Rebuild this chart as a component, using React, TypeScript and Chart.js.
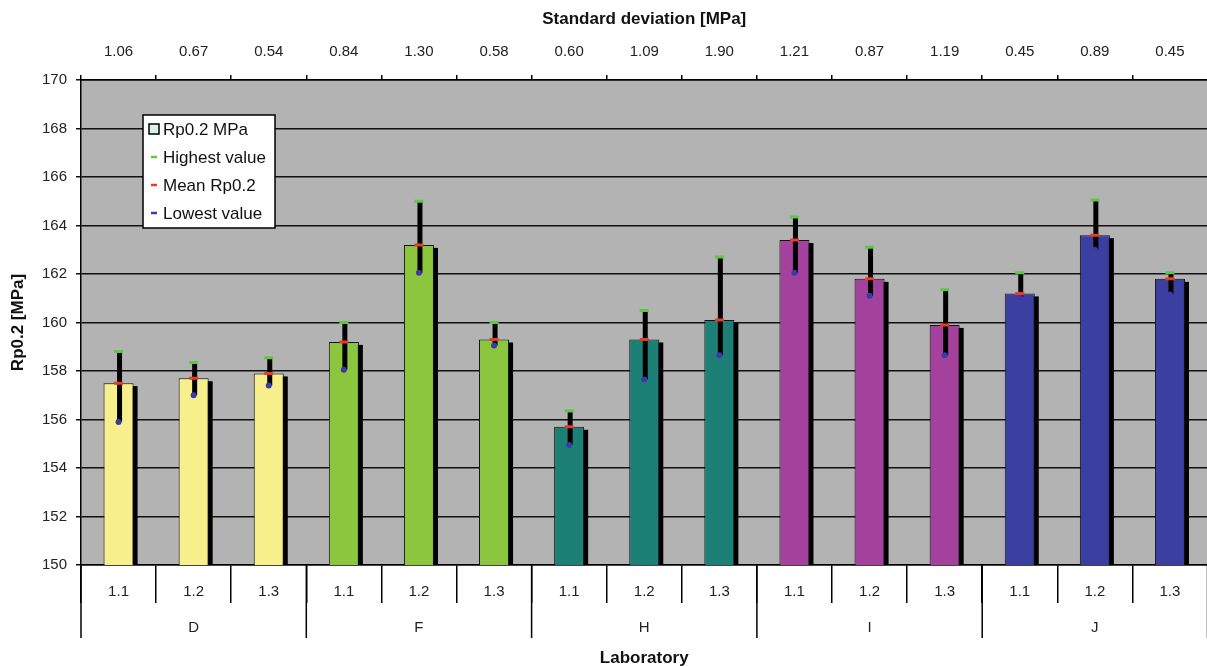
import React, { useEffect, useRef } from 'react';
import { Chart, registerables } from 'chart.js';

Chart.register(...registerables);

// ---- data ----
const laboratories = ['D', 'F', 'H', 'I', 'J'];
const runLabels = ['1.1', '1.2', '1.3', '1.1', '1.2', '1.3', '1.1', '1.2', '1.3', '1.1', '1.2', '1.3', '1.1', '1.2', '1.3'];
const stdDeviations = ['1.06', '0.67', '0.54', '0.84', '1.30', '0.58', '0.60', '1.09', '1.90', '1.21', '0.87', '1.19', '0.45', '0.89', '0.45'];
const meanRp02 = [157.5, 157.7, 157.9, 159.2, 163.2, 159.3, 155.7, 159.3, 160.1, 163.4, 161.8, 159.9, 161.2, 163.6, 161.8];
const highestValues = [158.8, 158.35, 158.55, 160.0, 165.0, 160.0, 156.35, 160.5, 162.7, 164.35, 163.1, 161.35, 162.05, 165.05, 162.05];
const lowestValues = [155.9, 157.0, 157.4, 158.05, 162.05, 159.05, 154.95, 157.65, 158.65, 162.05, 161.1, 158.65, 161.05, 163.0, 161.15];
const labColors = ['#f6ef8c', '#8cc63f', '#1d8077', '#a3419c', '#3b3f9f'];
const legendLabels = ['Rp0.2 MPa', 'Highest value', 'Mean Rp0.2', 'Lowest value'];

const FONT = '"Liberation Sans", Arial, sans-serif';
const GREEN = '#5cc843';
const RED = '#ec3b24';
const BLUE = '#3a3aa8';

const decorPlugin = {
  id: 'decor',
  beforeDraw(chart: any) {
    const { ctx, chartArea } = chart;
    ctx.save();
    ctx.fillStyle = '#b3b3b3';
    ctx.fillRect(chartArea.left, chartArea.top, chartArea.right - chartArea.left, chartArea.bottom - chartArea.top);
    ctx.restore();
  },
  beforeDatasetDraw(chart: any, args: any) {
    if (args.index !== 0) return;
    const { ctx, chartArea } = chart;
    const meta = chart.getDatasetMeta(0);
    ctx.save();
    ctx.beginPath();
    ctx.rect(chartArea.left, chartArea.top, chartArea.right - chartArea.left, chartArea.bottom - chartArea.top);
    ctx.clip();
    ctx.fillStyle = '#000';
    meta.data.forEach((bar: any) => {
      const w = bar.width;
      const bottom = Math.min(bar.base, chartArea.bottom);
      ctx.fillRect(bar.x - w / 2 + 4, bar.y + 3, w, bottom - bar.y - 3);
    });
    ctx.restore();
  },
  afterDatasetDraw(chart: any, args: any) {
    if (args.index !== 0) return;
    const { ctx } = chart;
    const y = chart.scales.y;
    const meta = chart.getDatasetMeta(0);
    ctx.save();
    ctx.strokeStyle = '#000';
    ctx.lineWidth = 5;
    meta.data.forEach((bar: any, i: number) => {
      ctx.beginPath();
      ctx.moveTo(bar.x + 1, y.getPixelForValue(lowestValues[i]));
      ctx.lineTo(bar.x + 1, y.getPixelForValue(highestValues[i]));
      ctx.stroke();
    });
    ctx.restore();
  },
  afterDraw(chart: any) {
    const { ctx, chartArea } = chart;
    const x = chart.scales.x;
    const step = x.getPixelForValue(1) - x.getPixelForValue(0);
    ctx.save();
    // group separators and lab labels
    ctx.strokeStyle = '#000';
    ctx.lineWidth = 1.5;
    for (let g = 0; g <= laboratories.length; g++) {
      const px = x.getPixelForValue(g * 3) - step / 2;
      ctx.beginPath();
      ctx.moveTo(px, chartArea.bottom);
      ctx.lineTo(px, chartArea.bottom + 73);
      ctx.stroke();
    }
    ctx.fillStyle = '#222';
    ctx.font = `15px ${FONT}`;
    ctx.textAlign = 'center';
    ctx.textBaseline = 'middle';
    laboratories.forEach((lab, g) => {
      ctx.fillText(lab, x.getPixelForValue(g * 3 + 1), chartArea.bottom + 63);
    });
    // legend
    const lx = 143, ly = 115, lw = 132, lh = 113;
    ctx.fillStyle = '#fff';
    ctx.fillRect(lx, ly, lw, lh);
    ctx.strokeStyle = '#000';
    ctx.lineWidth = 1.5;
    ctx.strokeRect(lx, ly, lw, lh);
    const rows = [129, 157, 185, 213];
    ctx.font = `17px ${FONT}`;
    ctx.textAlign = 'left';
    rows.forEach((ry, i) => {
      if (i === 0) {
        ctx.fillStyle = '#d8f0f0';
        ctx.fillRect(149, ry - 5, 10, 10);
        ctx.strokeStyle = '#000';
        ctx.lineWidth = 1.5;
        ctx.strokeRect(149, ry - 5, 10, 10);
      } else {
        ctx.strokeStyle = [GREEN, RED, BLUE][i - 1];
        ctx.lineWidth = 2.5;
        ctx.beginPath();
        ctx.moveTo(151, ry);
        ctx.lineTo(157, ry);
        ctx.stroke();
      }
      ctx.fillStyle = '#111';
      ctx.fillText(legendLabels[i], 163, ry + 1);
    });
    ctx.restore();
  },
};

export default function App() {
  const canvasRef = useRef<HTMLCanvasElement | null>(null);

  useEffect(() => {
    if (!canvasRef.current) return;
    const barColors = runLabels.map((_, i) => labColors[Math.floor(i / 3)]);
    const chart = new Chart(canvasRef.current, {
      type: 'bar',
      data: {
        labels: runLabels,
        datasets: [
          {
            type: 'bar',
            label: legendLabels[0],
            data: meanRp02,
            backgroundColor: barColors,
            borderColor: '#111',
            borderWidth: 1,
            barPercentage: 0.4,
            categoryPercentage: 1,
            order: 10,
          } as any,
          {
            type: 'line',
            label: legendLabels[1],
            data: highestValues,
            showLine: false,
            pointStyle: 'line',
            pointRadius: 4.5,
            pointBorderWidth: 3,
            pointBorderColor: GREEN,
            pointBackgroundColor: GREEN,
            order: 1,
          },
          {
            type: 'line',
            label: legendLabels[2],
            data: meanRp02,
            showLine: false,
            pointStyle: 'line',
            pointRadius: 4.5,
            pointBorderWidth: 3,
            pointBorderColor: RED,
            pointBackgroundColor: RED,
            order: 2,
          },
          {
            type: 'line',
            label: legendLabels[3],
            data: lowestValues,
            showLine: false,
            pointStyle: 'circle',
            pointRadius: 3,
            pointBorderWidth: 0,
            pointBorderColor: BLUE,
            pointBackgroundColor: BLUE,
            order: 3,
          },
        ],
      },
      options: {
        animation: false,
        responsive: false,
        devicePixelRatio: 1,
        events: [],
        layout: { padding: 0 },
        plugins: {
          legend: { display: false },
          tooltip: { enabled: false },
        },
        scales: {
          x: {
            type: 'category',
            position: 'bottom',
            offset: true,
            grid: { offset: true, drawOnChartArea: false, tickLength: 38, color: '#000', lineWidth: 1.5 },
            border: { display: true, color: '#000', width: 1.5 },
            ticks: { color: '#222', font: { family: FONT, size: 15 }, padding: -20, maxRotation: 0, autoSkip: false },
            title: { display: true, text: 'Laboratory', color: '#111', font: { family: FONT, size: 17, weight: 'bold' }, padding: { top: 0, bottom: -3 } },
            afterFit: (s: any) => { s.height = 101; },
          },
          x2: {
            type: 'category',
            position: 'top',
            labels: stdDeviations,
            offset: true,
            grid: { offset: true, drawOnChartArea: false, tickLength: 5, color: '#000', lineWidth: 1.5 },
            border: { display: true, color: '#000', width: 1.5 },
            ticks: { color: '#222', font: { family: FONT, size: 15 }, padding: 14, maxRotation: 0, autoSkip: false },
            title: { display: true, text: 'Standard deviation [MPa]', color: '#111', font: { family: FONT, size: 17, weight: 'bold' }, padding: { top: 8.8, bottom: 0 } },
            afterFit: (s: any) => { s.height = 80; },
          },
          y: {
            type: 'linear',
            position: 'left',
            min: 150,
            max: 170,
            grid: { color: '#111', lineWidth: 1.5, tickLength: 5 },
            border: { display: true, color: '#000', width: 1.5 },
            ticks: { stepSize: 2, color: '#222', font: { family: FONT, size: 15 }, padding: 9 },
            title: { display: true, text: 'Rp0.2 [MPa]', color: '#111', font: { family: FONT, size: 17, weight: 'bold' }, padding: { top: 7.8, bottom: 0 } },
            afterFit: (s: any) => { s.width = 81; },
          },
        },
      } as any,
      plugins: [decorPlugin],
    });
    return () => chart.destroy();
  }, []);

  return (
    <div style={{ position: 'fixed', left: 0, top: 0, width: 1207, height: 666, overflow: 'hidden', background: '#fff' }}>
      <canvas ref={canvasRef} width={1215} height={666} style={{ display: 'block', width: 1215, height: 666 }} />
    </div>
  );
}
